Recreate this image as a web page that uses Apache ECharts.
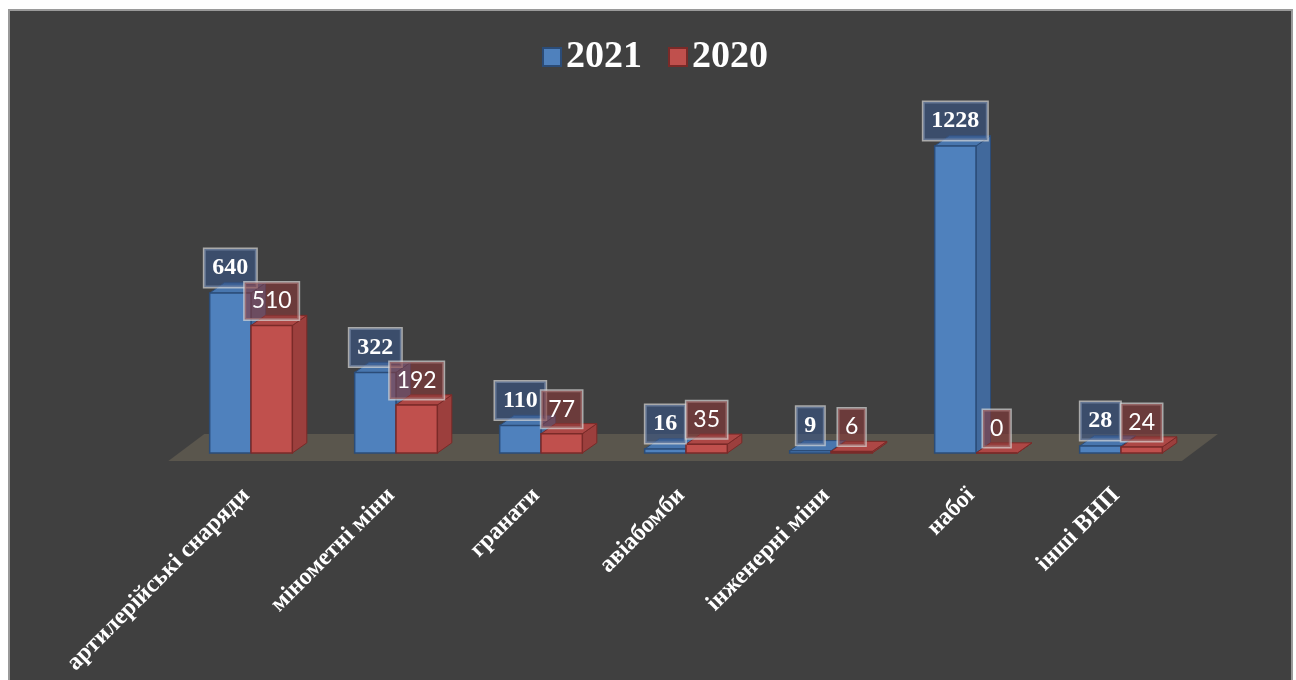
<!DOCTYPE html>
<html>
<head>
<meta charset="utf-8">
<script src="https://cdn.jsdelivr.net/npm/echarts@6/dist/echarts.min.js"></script>
<style>
  html, body { margin: 0; padding: 0; background: #fff; overflow: hidden; }
  #frame {
    position: absolute; left: 8px; top: 9px; width: 1281px; height: 700px;
    background: #404040; border: 2px solid #9a9a9a;
  }
  #main { position: absolute; left: 0; top: 0; width: 1296px; height: 680px; }
</style>
</head>
<body>
<div id="frame"></div>
<div id="main"></div>
<script>
const categories = ['артилерійські снаряди', 'мінометні міни', 'гранати', 'авіабомби', 'інженерні міни', 'набої', 'інші ВНП']
const values2021 = [640, 322, 110, 16, 9, 1228, 28]
const values2020 = [510, 192, 77, 35, 6, 0, 24]

const BLUE = { front: '#4f81bd', side: '#41699c', top: '#4876ae', edge: '#2b4c78', label: 'rgba(56,86,136,0.6)' }
const RED = { front: '#c0504d', side: '#9c3f3d', top: '#ad4745', edge: '#7a2a28', label: 'rgba(136,57,57,0.6)' }

// draws one 3D-looking bar with its value box
function barRenderer(shift, c, labelFont, pad) {
    return function (params, api) {
        const idx = api.value(0)
        const val = api.value(1)
        const top = api.coord([idx, val])
        const base = api.coord([idx, 0])
        const band = api.size([1, 0])[0]
        const w = band * 0.285
        const dx = band * 0.1
        const dy = band * 0.07
        const x0 = top[0] + shift * w
        const x1 = x0 + w
        return {
            type: 'group',
            children: [
                {
                    type: 'polygon',
                    shape: { points: [[x1, top[1]], [x1 + dx, top[1] - dy], [x1 + dx, base[1] - dy], [x1, base[1]]] },
                    style: { fill: c.side, stroke: c.edge, lineWidth: 1 }
                },
                {
                    type: 'polygon',
                    shape: { points: [[x0, top[1]], [x0 + dx, top[1] - dy], [x1 + dx, top[1] - dy], [x1, top[1]]] },
                    style: { fill: c.top, stroke: c.edge, lineWidth: 1 }
                },
                {
                    type: 'rect',
                    shape: { x: x0, y: top[1], width: w, height: base[1] - top[1] },
                    style: { fill: c.front, stroke: c.edge, lineWidth: 1.5 }
                },
                {
                    type: 'text',
                    z2: 100,
                    x: x0 + w / 2,
                    y: top[1] - 6,
                    style: {
                        text: String(val),
                        align: 'center',
                        verticalAlign: 'bottom',
                        font: labelFont,
                        fill: '#ffffff',
                        backgroundColor: c.label,
                        borderColor: 'rgba(215,215,215,0.7)',
                        borderWidth: 1.5,
                        padding: pad
                    }
                }
            ]
        }
    }
}

// the brownish floor under all bars
function floorRenderer(params, api) {
    const first = api.coord([0, 0])
    const last = api.coord([categories.length - 1, 0])
    const band = api.size([1, 0])[0]
    const yb = first[1] + 8
    const yt = first[1] - 19
    const xl = first[0] - band * 0.57
    const xr = last[0] + band * 0.42
    return {
        type: 'polygon',
        shape: { points: [[xl, yb], [xl + 36, yt], [xr + 36, yt], [xr, yb]] },
        style: { fill: '#5a564d' }
    }
}

const chart = echarts.init(document.getElementById('main'))
chart.setOption({
    backgroundColor: 'transparent',
    animation: false,
    legend: {
        top: 33,
        left: 537,
        itemWidth: 18,
        itemHeight: 18,
        itemGap: 26,
        icon: 'rect',
        data: ['2021', '2020'],
        textStyle: { color: '#fff', fontSize: 38, fontWeight: 'bold', fontFamily: 'Liberation Serif' }
    },
    grid: { left: 178.5, right: 102.5, top: 103, bottom: 227 },
    xAxis: {
        type: 'category',
        data: categories,
        axisLine: { show: false },
        axisTick: { show: false },
        axisLabel: {
            rotate: 45,
            margin: 34,
            interval: 0,
            padding: [0, 7, 0, 0],
            color: '#fff',
            fontSize: 24,
            fontWeight: 'bold',
            fontFamily: 'Liberation Serif'
        }
    },
    yAxis: { type: 'value', min: 0, max: 1400, show: false, splitLine: { show: false } },
    series: [
        {
            type: 'custom',
            name: 'floor',
            z: 1,
            silent: true,
            data: [[0]],
            renderItem: floorRenderer
        },
        {
            type: 'custom',
            name: '2021',
            z: 2,
            itemStyle: { color: BLUE.front, borderColor: BLUE.edge, borderWidth: 2 },
            data: values2021.map((v, i) => [i, v]),
            renderItem: barRenderer(-1, BLUE, 'bold 24px "Liberation Serif"', [7, 8])
        },
        {
            type: 'custom',
            name: '2020',
            z: 2,
            itemStyle: { color: RED.front, borderColor: RED.edge, borderWidth: 2 },
            data: values2020.map((v, i) => [i, v]),
            renderItem: barRenderer(0, RED, '23px Lato', [7, 7])
        }
    ]
})
</script>
</body>
</html>
